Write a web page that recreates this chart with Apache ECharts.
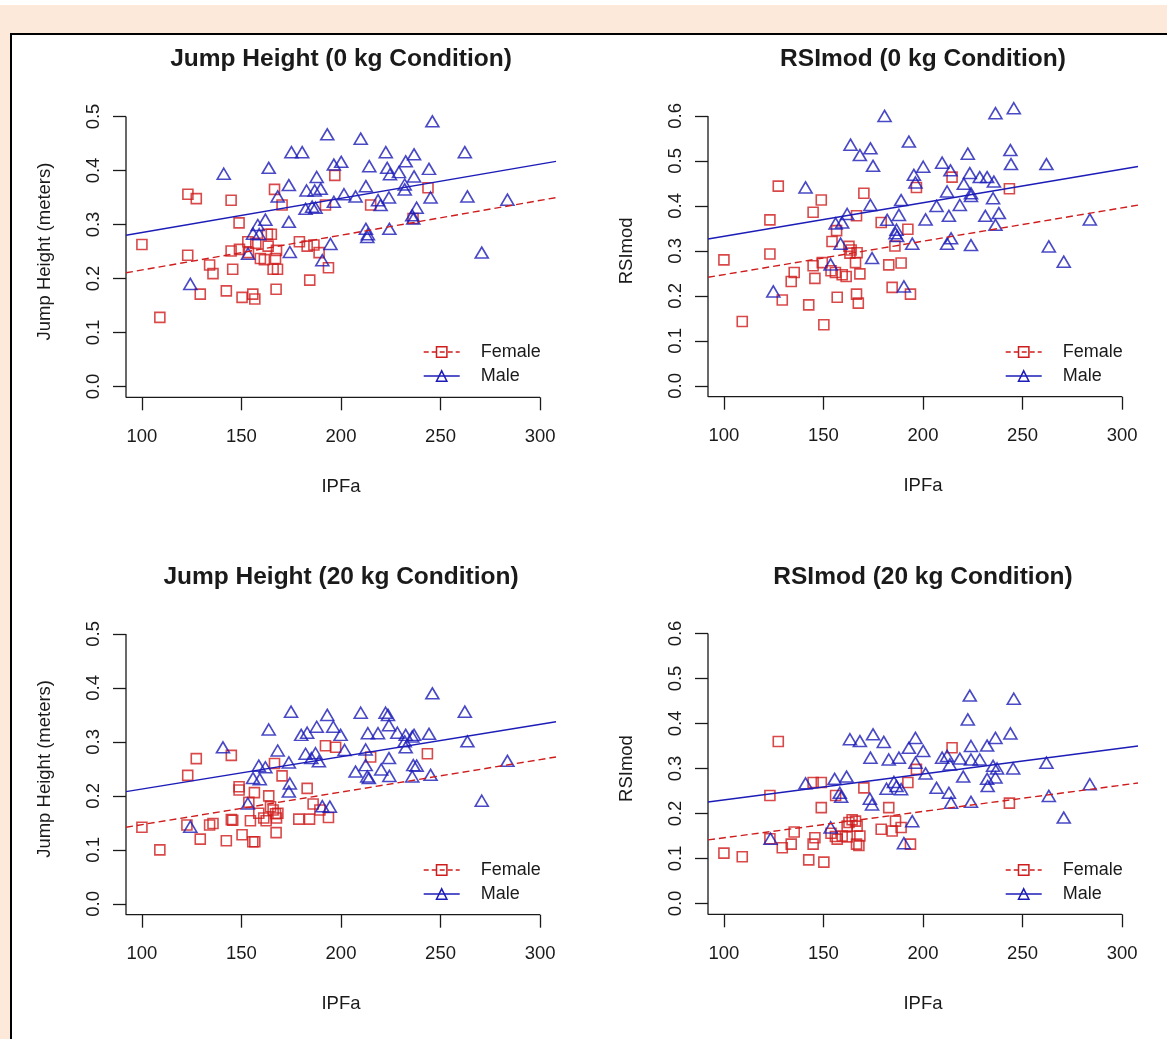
<!DOCTYPE html>
<html>
<head>
<meta charset="utf-8">
<script src="https://cdn.jsdelivr.net/npm/echarts@6/dist/echarts.min.js"></script>
<style>
html, body { margin: 0; padding: 0; background: #fff; }
#band { position: absolute; left: 0; top: 5px; width: 1167px; height: 1034px; background: #fce9da; }
#frame { position: absolute; left: 10px; top: 33px; width: 1157px; height: 1006px; background: #fff;
         border-top: 2px solid #000; border-left: 2px solid #000; box-sizing: border-box; }
#main { position: absolute; left: 0; top: 0; width: 1167px; height: 1039px; }
</style>
</head>
<body>
<div id="band"></div>
<div id="frame"></div>
<div id="main"></div>
<script>
// IPFa vs outcome, [IPFa, value]
var jh0Female = [[100,0.263],[109,0.128],[123.1,0.356],[127.3,0.348],[123,0.243],[129.3,0.171],[134,0.225],[135.7,0.209],
  [144.8,0.345],[148.8,0.303],[144.8,0.251],[145.6,0.217],[142.4,0.177],[150.3,0.165],[149,0.254],[153.2,0.268],[153.5,0.248],
  [155.7,0.171],[156.7,0.162],[157.2,0.265],[159.5,0.237],[161.5,0.235],[163,0.282],[165,0.282],[163.4,0.26],[167.6,0.252],
  [167.1,0.237],[165.9,0.217],[168.1,0.217],[167.4,0.18],[166.6,0.365],[170.4,0.336],[179.1,0.268],[183,0.26],[186.4,0.262],
  [189,0.248],[193.7,0.22],[184.3,0.197],[192.2,0.336],[196.9,0.391],[214.9,0.336],[243.7,0.368],[236.2,0.311]];
var jh0Male = [[141.1,0.394],[124.3,0.19],[153.3,0.246],[155.8,0.283],[158.2,0.299],[158.9,0.282],[162,0.309],[163.7,0.405],
  [168.2,0.352],[173.8,0.373],[175.1,0.434],[180.5,0.434],[173.8,0.305],[174.3,0.249],[182.2,0.329],[182.7,0.363],[186.8,0.363],
  [187.8,0.388],[189.8,0.366],[185.5,0.333],[187.2,0.331],[193.1,0.467],[194.7,0.264],[190.6,0.234],[196.4,0.342],[196.4,0.411],
  [200.1,0.416],[201.5,0.356],[207.3,0.352],[209.9,0.459],[212.5,0.371],[214.2,0.408],[212.5,0.292],[213.5,0.282],[213.2,0.277],
  [218.6,0.345],[219.9,0.336],[222.5,0.434],[223.2,0.405],[224.6,0.393],[224.1,0.35],[224.3,0.292],[229.1,0.397],[232.5,0.417],
  [232,0.374],[232,0.365],[236.7,0.43],[236.7,0.389],[238,0.331],[235.8,0.317],[236.3,0.311],[244.2,0.403],[245,0.35],
  [245.9,0.491],[262.2,0.434],[263.5,0.352],[270.7,0.248],[283.6,0.346]];
var rsi0Female = [[100,0.28],[109.2,0.143],[127.3,0.444],[123.1,0.369],[123.1,0.293],[129.3,0.191],[133.8,0.232],[135.3,0.252],
  [142.6,0.18],[144.8,0.386],[148.9,0.413],[144.8,0.267],[145.7,0.239],[149.4,0.274],[150.2,0.136],[154.3,0.321],[153.8,0.256],
  [156,0.252],[156.9,0.197],[159.4,0.247],[161.4,0.243],[162.8,0.31],[163.9,0.302],[163.3,0.295],[166.9,0.296],[166.1,0.274],
  [168.3,0.249],[166.6,0.204],[167.5,0.184],[156.6,0.345],[166.6,0.378],[170.3,0.428],[179,0.363],[185.9,0.311],[182.8,0.269],
  [189,0.273],[184.5,0.219],[193.7,0.204],[192.4,0.348],[196.7,0.441],[214.6,0.464],[243.4,0.438]];
var rsi0Male = [[141,0.441],[124.8,0.21],[156.1,0.361],[159.4,0.363],[161.9,0.382],[153.6,0.27],[158.6,0.316],[163.6,0.536],
  [168.3,0.513],[173.6,0.528],[174.9,0.489],[173.6,0.402],[174.4,0.284],[180.7,0.6],[182,0.369],[187.9,0.38],[186.7,0.347],
  [186.2,0.339],[187,0.333],[189,0.413],[190.4,0.221],[192.9,0.543],[194.6,0.316],[195.4,0.469],[196.2,0.452],[200.1,0.487],
  [201.3,0.37],[206.8,0.4],[209.6,0.496],[212.1,0.432],[213,0.378],[213.8,0.479],[212.1,0.316],[214.1,0.328],[218.5,0.402],
  [220.5,0.449],[222.5,0.516],[223.5,0.473],[224.1,0.422],[224.1,0.313],[228.5,0.464],[232.2,0.464],[235.6,0.454],[235.2,0.417],
  [231.3,0.378],[238.1,0.384],[236.4,0.358],[236.4,0.606],[243.9,0.524],[244.2,0.493],[245.6,0.617],[262,0.493],[263.2,0.31],
  [270.7,0.276],[283.8,0.37],[224.1,0.428]];
var jh20Female = [[100,0.142],[109,0.1],[123,0.238],[127.3,0.269],[122.6,0.146],[129.3,0.12],[134,0.146],[135.7,0.149],
  [144.9,0.275],[148.8,0.217],[148.8,0.211],[144.9,0.156],[145.6,0.155],[142.4,0.117],[150.3,0.128],[153.7,0.188],[154.5,0.154],
  [155.7,0.115],[156.7,0.115],[156.5,0.206],[158.7,0.168],[161.2,0.159],[162.4,0.154],[163.7,0.2],[164.6,0.18],[165.9,0.174],
  [167.1,0.167],[168.3,0.168],[167.6,0.159],[166.6,0.26],[170.4,0.237],[167.4,0.132],[178.8,0.157],[183,0.214],[184.2,0.157],
  [186,0.185],[189.4,0.174],[193.7,0.16],[192.2,0.293],[197.3,0.29],[214.9,0.272],[243.4,0.278]];
var jh20Male = [[140.7,0.29],[124.3,0.143],[153.2,0.186],[155.8,0.233],[158.7,0.256],[159.2,0.231],[162,0.253],[163.7,0.323],
  [168.2,0.284],[173.8,0.262],[174.9,0.356],[174.3,0.223],[173.8,0.208],[180,0.313],[183,0.317],[182.2,0.278],[187.8,0.328],
  [185.1,0.27],[187.2,0.279],[188.9,0.264],[193.1,0.35],[196.1,0.328],[199.8,0.313],[201.8,0.285],[194.4,0.18],[190.6,0.181],
  [209.9,0.354],[212.4,0.286],[213.5,0.316],[212.4,0.257],[213.2,0.236],[214,0.233],[207.3,0.245],[218.6,0.316],[220.2,0.249],
  [224.1,0.27],[224.3,0.237],[222.4,0.354],[223.6,0.35],[224.1,0.331],[228.3,0.317],[232.5,0.313],[232,0.301],[232.5,0.29],
  [235.8,0.31],[236.7,0.313],[236.3,0.257],[238,0.256],[235.8,0.236],[244.2,0.315],[245,0.239],[245.9,0.39],[262.2,0.356],
  [263.5,0.301],[270.7,0.191],[283.6,0.265]];
var rsi20Female = [[100,0.112],[109.2,0.104],[127.3,0.36],[123.1,0.24],[123.1,0.144],[129.3,0.124],[133.8,0.132],[135.3,0.159],
  [142.6,0.097],[144.8,0.269],[148.9,0.269],[144.8,0.132],[145.7,0.146],[148.9,0.213],[150.2,0.092],[156.1,0.24],[153.8,0.156],
  [156,0.149],[156.9,0.143],[159.4,0.15],[161.9,0.172],[162.8,0.18],[164.4,0.186],[166.1,0.183],[166.9,0.172],[161.9,0.148],
  [168.3,0.15],[166.6,0.132],[167.8,0.129],[170.3,0.257],[182.8,0.213],[186.2,0.183],[179,0.165],[184.5,0.161],[189,0.169],
  [193.7,0.132],[192.4,0.269],[196.7,0.298],[214.6,0.346],[243.4,0.223]];
var rsi20Male = [[141,0.267],[123.4,0.144],[155.6,0.277],[158.2,0.246],[158.9,0.237],[153.6,0.169],[161.6,0.282],[163.3,0.365],
  [168.3,0.361],[174.9,0.376],[180.3,0.359],[173.6,0.324],[173.3,0.233],[174.4,0.22],[182.8,0.32],[187.9,0.324],[181.7,0.255],
  [185.4,0.27],[186.7,0.261],[189,0.254],[194.6,0.183],[190.4,0.134],[192.9,0.346],[196.2,0.368],[196.2,0.313],[200.1,0.339],
  [201.3,0.289],[206.8,0.257],[209.6,0.324],[212.1,0.328],[213,0.246],[213.5,0.309],[214.1,0.224],[218.5,0.322],[220.2,0.282],
  [223.5,0.462],[222.5,0.409],[224.1,0.35],[224.1,0.32],[224.1,0.226],[228.5,0.32],[232.2,0.351],[236.4,0.368],[235.2,0.306],
  [237.2,0.3],[232.2,0.277],[232.5,0.261],[236.4,0.28],[243.9,0.378],[245.3,0.3],[245.6,0.455],[262,0.313],[263.2,0.239],
  [270.7,0.191],[283.8,0.265]];

// fitted lines: value at fitX[0] and fitX[1]
var fitX = [92, 308];
var jh0FitFemale = [0.2106, 0.3498];
var jh0FitMale = [0.280, 0.4170];
var rsi0FitFemale = [0.2413, 0.4017];
var rsi0FitMale = [0.3265, 0.4875];
var jh20FitFemale = [0.142, 0.2721];
var jh20FitMale = [0.208, 0.3372];
var rsi20FitFemale = [0.1413, 0.2678];
var rsi20FitMale = [0.2256, 0.3501];

var xTicks = [100, 150, 200, 250, 300];
var jhTicks = [0, 0.1, 0.2, 0.3, 0.4, 0.5];
var rsiTicks = [0, 0.1, 0.2, 0.3, 0.4, 0.5, 0.6];

var RED = '#cf1c1c';
var BLUE = '#1c1cb8';
var INK = '#1a1a1a';
var FONT = "'Liberation Sans', Arial, sans-serif";

var panels = [
  { title: 'Jump Height (0 kg Condition)', yName: 'Jump Height (meters)', left: 126, top: 105.7, yTicks: jhTicks,
    female: jh0Female, male: jh0Male, fitF: jh0FitFemale, fitM: jh0FitMale, titleTop: 47, legendLeft: 423, legendTop: 343 },
  { title: 'RSImod (0 kg Condition)', yName: 'RSImod', left: 708, top: 105.1, yTicks: rsiTicks,
    female: rsi0Female, male: rsi0Male, fitF: rsi0FitFemale, fitM: rsi0FitMale, titleTop: 47, legendLeft: 1005, legendTop: 343 },
  { title: 'Jump Height (20 kg Condition)', yName: 'Jump Height (meters)', left: 126, top: 623.1, yTicks: jhTicks,
    female: jh20Female, male: jh20Male, fitF: jh20FitFemale, fitM: jh20FitMale, titleTop: 565, legendLeft: 423, legendTop: 861 },
  { title: 'RSImod (20 kg Condition)', yName: 'RSImod', left: 708, top: 622.7, yTicks: rsiTicks,
    female: rsi20Female, male: rsi20Male, fitF: rsi20FitFemale, fitM: rsi20FitMale, titleTop: 565, legendLeft: 1005, legendTop: 861 }
];

var W = 430, H = 291.6;
var grid = [], xAxis = [], yAxis = [], series = [], title = [], legend = [];

panels.forEach(function (p, i) {
  var yTop = p.yTicks[p.yTicks.length - 1];
  var yMin = -0.04 * yTop, yMax = 1.04 * yTop;
  var xMin = fitX[0], xMax = fitX[1];

  grid.push({ left: p.left, top: p.top, width: W, height: H, containLabel: false, outerBoundsMode: 'none' });

  xAxis.push({
    gridIndex: i, type: 'value', min: xMin, max: xMax,
    name: 'IPFa', nameLocation: 'middle', nameGap: 80,
    nameTextStyle: { fontSize: 18.5, color: INK, fontFamily: FONT },
    axisLine: { show: false, onZero: false },
    splitLine: { show: false },
    axisTick: { show: true, length: 13, customValues: xTicks, lineStyle: { color: INK, width: 1.3 } },
    axisLabel: { customValues: xTicks, margin: 30, fontSize: 18.5, color: INK, fontFamily: FONT }
  });

  yAxis.push({
    gridIndex: i, type: 'value', min: yMin, max: yMax,
    name: p.yName, nameLocation: 'middle', nameGap: 72, nameRotate: 90,
    nameTextStyle: { fontSize: 18.5, color: INK, fontFamily: FONT },
    axisLine: { show: false, onZero: false },
    splitLine: { show: false },
    axisTick: { show: true, length: 13, customValues: p.yTicks, lineStyle: { color: INK, width: 1.3 } },
    axisLabel: { customValues: p.yTicks, rotate: 90, margin: 23, fontSize: 18.5, color: INK, fontFamily: FONT,
      formatter: function (v) { return v.toFixed(1); } }
  });

  // L-shaped axis frame (left side up to top tick, bottom up to last x tick)
  series.push({
    type: 'line', name: 'frame', xAxisIndex: i, yAxisIndex: i, silent: true, clip: false,
    data: [[xMin, yTop], [xMin, yMin], [xTicks[xTicks.length - 1], yMin]],
    symbol: 'none', lineStyle: { color: INK, width: 1.3 }, z: 1
  });

  series.push({
    type: 'line', name: 'Female', xAxisIndex: i, yAxisIndex: i, silent: true,
    data: [[fitX[0], p.fitF[0]], [fitX[1], p.fitF[1]]],
    symbol: 'rect', showSymbol: false, itemStyle: { color: RED },
    lineStyle: { color: RED, width: 1.4, type: [7, 4] }, z: 3
  });
  series.push({
    type: 'line', name: 'Male', xAxisIndex: i, yAxisIndex: i, silent: true,
    data: [[fitX[0], p.fitM[0]], [fitX[1], p.fitM[1]]],
    symbol: 'triangle', showSymbol: false, itemStyle: { color: BLUE },
    lineStyle: { color: BLUE, width: 1.4 }, z: 3
  });

  series.push({
    type: 'scatter', name: 'Female', xAxisIndex: i, yAxisIndex: i, silent: true, clip: false,
    data: p.female, symbol: 'rect', symbolSize: 10,
    itemStyle: { color: 'rgba(0,0,0,0)', borderColor: RED, borderWidth: 1.6 }, z: 2
  });
  series.push({
    type: 'scatter', name: 'Male', xAxisIndex: i, yAxisIndex: i, silent: true, clip: false,
    data: p.male, symbol: 'triangle', symbolSize: [13, 11],
    itemStyle: { color: 'rgba(0,0,0,0)', borderColor: BLUE, borderWidth: 1.6 }, z: 2
  });

  title.push({
    text: p.title, left: p.left + W / 2, top: p.titleTop, textAlign: 'center', padding: 0,
    textStyle: { fontSize: 24.5, fontWeight: 'bold', color: INK, fontFamily: FONT }
  });

  legend.push({
    left: p.legendLeft, top: p.legendTop, orient: 'vertical', padding: 0, itemGap: 6,
    itemWidth: 36, itemHeight: 13, selectedMode: false,
    textStyle: { fontSize: 18, color: INK, fontFamily: FONT, padding: [0, 0, 0, 16] },
    data: [
      { name: 'Female', itemStyle: { color: 'rgba(0,0,0,0)', borderColor: RED, borderWidth: 1.5 },
        lineStyle: { color: RED, width: 1.4, type: [5, 3] } },
      { name: 'Male', itemStyle: { color: 'rgba(0,0,0,0)', borderColor: BLUE, borderWidth: 1.5 },
        lineStyle: { color: BLUE, width: 1.4, type: 'solid' } }
    ]
  });
});

var chart = echarts.init(document.getElementById('main'), null, { renderer: 'canvas' });
chart.setOption({
  animation: false,
  backgroundColor: 'transparent',
  textStyle: { fontFamily: FONT },
  title: title,
  legend: legend,
  grid: grid,
  xAxis: xAxis,
  yAxis: yAxis,
  series: series
});
</script>
</body>
</html>
